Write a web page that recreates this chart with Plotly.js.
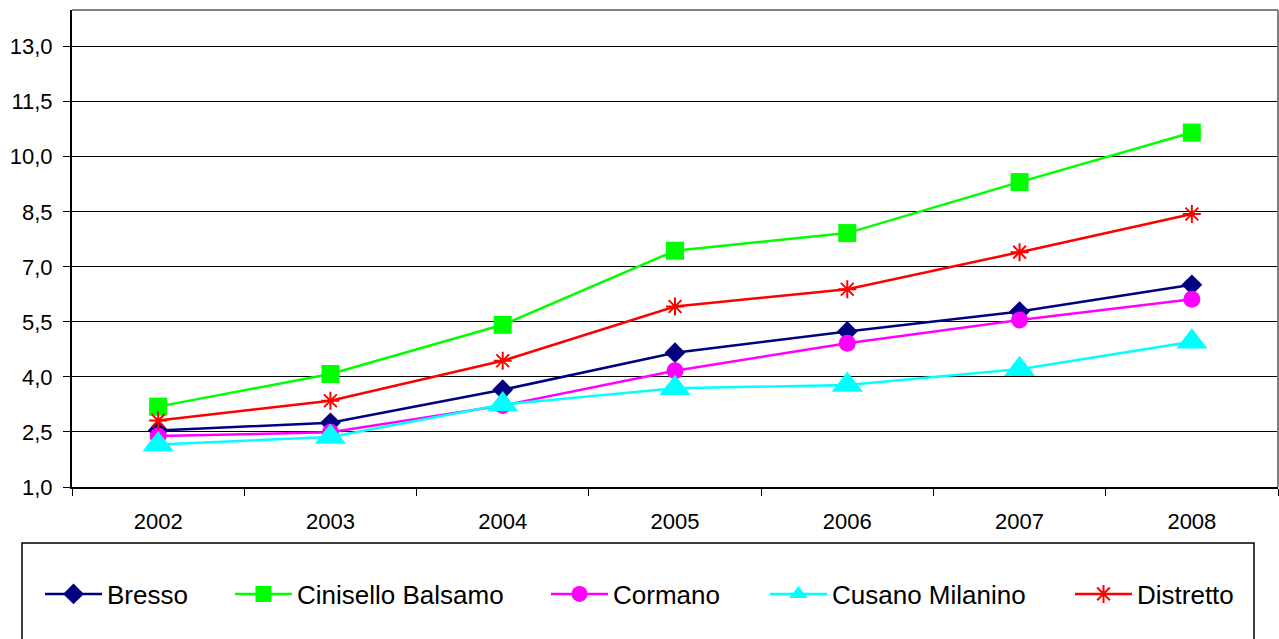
<!DOCTYPE html>
<html>
<head>
<meta charset="utf-8">
<script src="https://cdn.plot.ly/plotly-3.0.1.min.js"></script>
<style>html,body{margin:0;padding:0;background:#fff;}#chart{width:1279px;height:639px;}</style>
</head>
<body>
<div id="chart"></div>
<script>
const years = ['2002','2003','2004','2005','2006','2007','2008'];
const bresso = [2.54, 2.75, 3.65, 4.66, 5.24, 5.78, 6.51];
const cinisello = [3.19, 4.08, 5.42, 7.44, 7.92, 9.31, 10.66];
const cormano = [2.39, 2.49, 3.22, 4.17, 4.92, 5.55, 6.12];
const cusano = [2.16, 2.36, 3.25, 3.69, 3.78, 4.21, 4.96];
const distretto = [2.81, 3.35, 4.44, 5.92, 6.39, 7.40, 8.44];
const seriesNames = ['Bresso','Cinisello Balsamo','Cormano','Cusano Milanino','Distretto'];

const FONT = 'Liberation Sans, Arial, sans-serif';
const W = 1279, H = 639;
const L = 72, R = 1, T = 10, B = 152;
const plotW = W - L - R, plotH = H - T - B;
const px = x => (x - L) / plotW;
const py = y => (H - B - y) / plotH;

const styles = [
  {color:'#000080', symbol:'diamond', size:16, lw:0},
  {color:'#00FF00', symbol:'square', size:18, lw:0},
  {color:'#FF00FF', symbol:'circle', size:17, lw:0},
  {color:'#00FFFF', symbol:'triangle-up', size:27, lw:0},
  {color:'#FF0000', symbol:'asterisk-open', size:15, lw:2}
];
const data = [bresso, cinisello, cormano, cusano, distretto];
const legendStarts = [45, 235, 551, 770, 1075];

const traces = data.map((vals, i) => ({
  type:'scatter', mode:'lines+markers', x: years, y: vals, name: seriesNames[i],
  line:{color: styles[i].color, width:2.5},
  marker:{symbol: styles[i].symbol, size: styles[i].size, color: styles[i].color,
          line:{color: styles[i].color, width: styles[i].lw}},
  legend: i === 0 ? 'legend' : 'legend' + (i+1)
}));

const layout = {
  width: W, height: H,
  margin:{l:L, r:R, t:T, b:B, pad:0},
  paper_bgcolor:'#fff', plot_bgcolor:'#fff',
  separators: ',.',
  font:{family: FONT, size:22, color:'#000'},
  showlegend: true,
  xaxis:{
    type:'category', range:[-0.5, 6.5], tickson:'boundaries', ticks:'outside', ticklen:7,
    tickcolor:'#000', tickwidth:1, showgrid:false, showline:true, linecolor:'#000', linewidth:2,
    tickfont:{family: FONT, size:22, color:'#000'}, ticklabelstandoff: 14, zeroline:false, fixedrange:true
  },
  yaxis:{
    range:[1, 14], tick0:1, dtick:1.5, tickformat:'.1f', ticks:'outside', ticklen:7,
    tickcolor:'#000', tickwidth:1, showgrid:true, gridcolor:'#000', gridwidth:1,
    showline:true, linecolor:'#000', linewidth:2, zeroline:false,
    tickfont:{family: FONT, size:22, color:'#000'}, ticklabelstandoff: 6, fixedrange:true
  },
  shapes:[
    {type:'line', xref:'paper', yref:'paper', x0:0, x1:1, y0:1, y1:1, line:{color:'#808080', width:2}},
    {type:'line', xref:'paper', yref:'paper', x0:1, x1:1, y0:0, y1:1, line:{color:'#808080', width:2}},
    {type:'rect', xref:'paper', yref:'paper', x0:px(22), x1:px(1254), y0:py(543), y1:py(660),
     line:{color:'#000', width:1.5}, fillcolor:'rgba(0,0,0,0)'}
  ]
};
legendStarts.forEach((s, i) => {
  const key = i === 0 ? 'legend' : 'legend' + (i+1);
  layout[key] = {
    x: px(s - 5), xanchor:'left', y: py(594), yanchor:'middle', orientation:'h',
    bgcolor:'rgba(0,0,0,0)', borderwidth:0, itemwidth:57,
    font:{family: FONT, size:26, color:'#000'}
  };
});

Plotly.newPlot('chart', traces, layout, {staticPlot:true, displayModeBar:false});
</script>
</body>
</html>
